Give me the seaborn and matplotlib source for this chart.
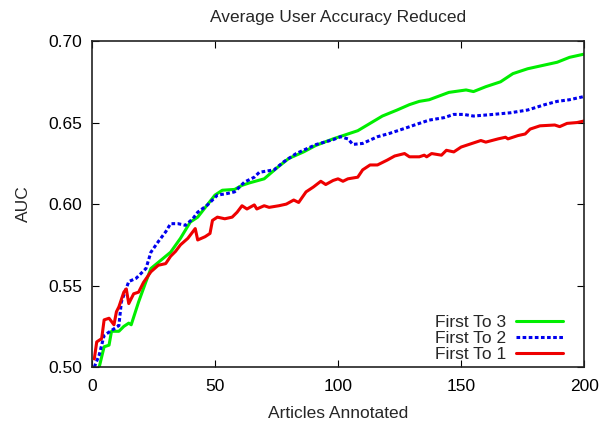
import matplotlib
matplotlib.use("Agg")
import matplotlib.pyplot as plt
import seaborn as sns

# First To 3
green_x = [3, 5, 7, 8, 11, 13, 15, 16, 19, 22, 24, 28, 32, 36, 40, 43, 50, 53, 58, 61,
           64, 70, 75, 80, 86, 91, 98, 102, 108, 113, 118, 124, 129, 133, 137, 145,
           152, 155, 160, 166, 171, 177, 183, 189, 194, 200]
green_y = [0.500, 0.5125, 0.5135, 0.522, 0.522, 0.525, 0.527, 0.526, 0.540, 0.5525, 0.5605,
           0.5655, 0.5705, 0.579, 0.589, 0.592, 0.6055, 0.6085, 0.609, 0.6115,
           0.613, 0.6155, 0.622, 0.628, 0.632, 0.636, 0.640, 0.642, 0.645, 0.6495,
           0.654, 0.6577, 0.661, 0.663, 0.664, 0.6685, 0.670, 0.669, 0.672, 0.675,
           0.680, 0.683, 0.685, 0.687, 0.690, 0.692]

# First To 2
blue_x = [1, 3, 5, 8, 11, 12, 15, 18, 22, 24, 27, 30, 32, 35, 38, 41, 43, 47, 51, 55,
          58, 62, 66, 68, 74, 78, 83, 91, 98, 101, 104, 106, 110, 116, 121, 127, 132,
          137, 143, 147, 151, 155, 163, 170, 177, 184, 189, 194, 200]
blue_y = [0.500, 0.5075, 0.5195, 0.5225, 0.5255, 0.540, 0.5525, 0.5545, 0.5605, 0.5705,
          0.577, 0.583, 0.588, 0.588, 0.587, 0.591, 0.595, 0.5995, 0.6055, 0.6065,
          0.6075, 0.6135, 0.6165, 0.6195, 0.621, 0.626, 0.631, 0.6365, 0.6395, 0.6413,
          0.640, 0.6366, 0.6372, 0.6413, 0.6434, 0.6464, 0.649, 0.6515, 0.653, 0.655,
          0.655, 0.654, 0.655, 0.656, 0.6577, 0.661, 0.663, 0.664, 0.666]

# First To 1
red_x = [1, 2, 4, 5, 7, 9, 10, 11, 13, 14, 15, 17, 19, 21, 24, 27, 30, 32, 34, 36, 39,
         42, 43, 46, 48, 49, 51, 54, 57, 59, 61, 63, 66, 67, 70, 72, 76, 79, 82, 84,
         87, 90, 93, 95, 98, 100, 102, 104, 108, 110, 113, 116, 120, 123, 127, 129,
         133, 135, 136, 138, 142, 144, 147, 150, 154, 158, 160, 165, 168, 169, 173,
         176, 178, 182, 188, 190, 193, 197, 200]
red_y = [0.505, 0.5155, 0.5175, 0.529, 0.530, 0.526, 0.534, 0.537, 0.546, 0.548, 0.539,
         0.545, 0.546, 0.552, 0.5585, 0.5625, 0.5635, 0.568, 0.571, 0.575, 0.579,
         0.585, 0.578, 0.580, 0.582, 0.590, 0.592, 0.591, 0.592, 0.595, 0.599, 0.597,
         0.5995, 0.597, 0.599, 0.598, 0.599, 0.600, 0.6025, 0.601, 0.6075, 0.6105,
         0.614, 0.612, 0.6145, 0.6155, 0.614, 0.6155, 0.6165, 0.621, 0.624, 0.624,
         0.627, 0.6295, 0.631, 0.629, 0.629, 0.630, 0.629, 0.631, 0.630, 0.633, 0.632,
         0.635, 0.637, 0.639, 0.638, 0.640, 0.641, 0.640, 0.642, 0.643, 0.646, 0.648,
         0.6485, 0.6475, 0.6495, 0.650, 0.651]

x_ticks = [0, 50, 100, 150, 200]
y_ticks = [0.50, 0.55, 0.60, 0.65, 0.70]

sns.set_theme(style="ticks")
plt.rcParams["font.family"] = ["Liberation Sans", "DejaVu Sans"]
fs = 12.5

fig = plt.figure(figsize=(6.08, 4.23), dpi=100)
ax = fig.add_axes([0.151, 0.132, 0.81, 0.771])

sns.lineplot(x=green_x, y=green_y, ax=ax, color="#00ee00", lw=2.2, label="First To 3")
sns.lineplot(x=blue_x, y=blue_y, ax=ax, color="#0000ee", lw=2.2,
             linestyle=(0, (1.2, 0.8)), label="First To 2")
sns.lineplot(x=red_x, y=red_y, ax=ax, color="#ee0000", lw=2.2, label="First To 1")

ax.set_xlim(0, 200)
ax.set_ylim(0.50, 0.70)
ax.set_xticks(x_ticks)
ax.set_yticks(y_ticks)
ax.set_yticklabels([f"{v:.2f}" for v in y_ticks])
ax.tick_params(direction="in", top=True, right=True, length=5, width=0.8,
               labelsize=fs, colors="black", pad=7)
ax.tick_params(axis="x", pad=8.5)
for s in ax.spines.values():
    s.set_color("#222222")
    s.set_linewidth(1.2)

ax.set_title("Average User Accuracy Reduced", fontsize=fs, pad=14)
ax.set_xlabel("Articles Annotated", fontsize=fs, labelpad=9)
ax.set_ylabel("AUC", fontsize=fs, labelpad=12)

ax.legend(loc="lower right", bbox_to_anchor=(0.957, 0.015), frameon=False,
          markerfirst=False, fontsize=fs, handlelength=2.7, labelspacing=0.05,
          borderaxespad=0, borderpad=0, handletextpad=0.58)

fig.savefig("out.png", dpi=100)
